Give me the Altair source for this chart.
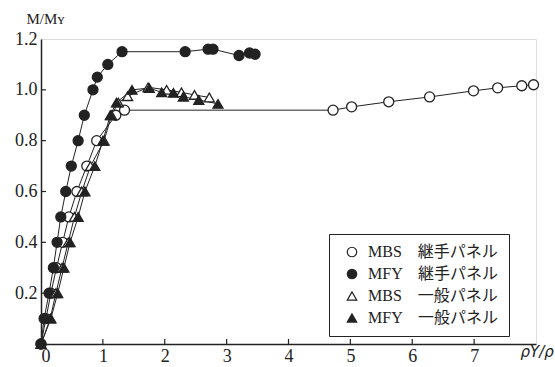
import altair as alt
import pandas as pd

series_names = ["MBS　継手パネル", "MFY　継手パネル", "MBS　一般パネル", "MFY　一般パネル"]

mbs_j_x = [0, 0.08, 0.16, 0.25, 0.35, 0.45, 0.58, 0.74, 0.9, 1.21, 1.35, 4.72, 5.02, 5.62, 6.28, 6.99, 7.38, 7.77, 7.96]
mbs_j_y = [0, 0.1, 0.2, 0.3, 0.4, 0.5, 0.6, 0.7, 0.8, 0.9, 0.92, 0.92, 0.933, 0.953, 0.972, 0.996, 1.008, 1.016, 1.02]

mfy_j_x = [0, 0.05, 0.13, 0.2, 0.26, 0.32, 0.4, 0.49, 0.6, 0.7, 0.84, 0.91, 1.08, 1.31, 2.33, 2.7, 2.78, 3.2, 3.37, 3.46]
mfy_j_y = [0, 0.1, 0.2, 0.3, 0.4, 0.5, 0.6, 0.7, 0.8, 0.9, 1.0, 1.05, 1.1, 1.15, 1.15, 1.16, 1.16, 1.135, 1.145, 1.14]

mbs_g_x = [0, 0.15, 0.24, 0.34, 0.44, 0.54, 0.66, 0.8, 1.02, 1.14, 1.25, 1.4, 1.73, 2.03, 2.27, 2.48, 2.72]
mbs_g_y = [0, 0.1, 0.2, 0.3, 0.4, 0.5, 0.6, 0.7, 0.8, 0.9, 0.95, 0.975, 1.01, 1.0, 0.99, 0.98, 0.97]

mfy_g_x = [0, 0.16, 0.27, 0.37, 0.47, 0.6, 0.71, 0.87, 1.0, 1.12, 1.22, 1.47, 1.75, 1.95, 2.14, 2.3, 2.55, 2.86]
mfy_g_y = [0, 0.1, 0.2, 0.3, 0.4, 0.5, 0.6, 0.7, 0.8, 0.9, 0.95, 1.0, 1.007, 0.99, 0.988, 0.973, 0.96, 0.945]

x_tick_values = [1, 2, 3, 4, 5, 6, 7]
y_tick_values = [0.2, 0.4, 0.6, 0.8, 1.0]

rows = []
for name, xs, ys in zip(series_names,
                        [mbs_j_x, mfy_j_x, mbs_g_x, mfy_g_x],
                        [mbs_j_y, mfy_j_y, mbs_g_y, mfy_g_y]):
    for i, (xv, yv) in enumerate(zip(xs, ys)):
        rows.append({"series": name, "x": xv, "y": yv, "order": i})
df = pd.DataFrame(rows)

xt = pd.DataFrame({"t": x_tick_values})
yt = pd.DataFrame({"t": y_tick_values})

ink = "#222222"
xscale = alt.Scale(domain=[0, 8], nice=False, zero=False)
yscale = alt.Scale(domain=[0, 1.2], nice=False, zero=False)

xaxis = alt.Axis(values=[0, 1, 2, 3, 4, 5, 6, 7], format="d", ticks=False, grid=False,
                 labelFont="Liberation Serif", labelFontSize=18, labelColor=ink,
                 labelPadding=3, domainColor=ink, domainWidth=1.5,
                 title="ρY/ρ", titleFont="DejaVu Sans", titleFontStyle="italic",
                 titleFontWeight="normal", titleFontSize=15, titleColor=ink,
                 titleAlign="left", titleBaseline="middle", titleX=479, titleY=7)
yaxis = alt.Axis(values=[0.2, 0.4, 0.6, 0.8, 1.0, 1.2], format=".1f", ticks=False, grid=False,
                 labelFont="Liberation Serif", labelFontSize=18, labelColor=ink,
                 labelPadding=4, domainColor=ink, domainWidth=1.5,
                 title="M/Mʏ", titleFont="Liberation Serif", titleFontWeight="normal",
                 titleFontSize=15, titleColor=ink, titleAngle=0,
                 titleAlign="center", titleBaseline="middle", titleX=4, titleY=-21)

base = alt.Chart(df)

lines = base.mark_line(color=ink, strokeWidth=1).encode(
    x=alt.X("x:Q", scale=xscale, axis=xaxis),
    y=alt.Y("y:Q", scale=yscale, axis=yaxis),
    detail="series:N",
    order="order:Q",
)

points = base.mark_point(size=100, strokeWidth=1.3, opacity=1, fillOpacity=1).encode(
    x=alt.X("x:Q", scale=xscale),
    y=alt.Y("y:Q", scale=yscale),
    shape=alt.Shape("series:N",
                    scale=alt.Scale(domain=series_names,
                                    range=["circle", "circle", "triangle-up", "triangle-up"]),
                    legend=alt.Legend(title=None, orient="none", legendX=288, legendY=195,
                                      strokeColor=ink, fillColor="white", padding=10,
                                      labelFont="Liberation Serif, Noto Sans CJK JP",
                                      labelFontSize=16, labelColor=ink, rowPadding=6,
                                      symbolSize=90, symbolStrokeWidth=1.2,
                                      symbolStrokeColor=ink, labelOffset=8,
                                      symbolOffset=5)),
    fill=alt.Fill("series:N",
                  scale=alt.Scale(domain=series_names,
                                  range=["white", ink, "white", ink]),
                  legend=alt.Legend(title=None)),
    stroke=alt.Stroke("series:N",
                      scale=alt.Scale(domain=series_names,
                                      range=[ink, ink, ink, ink]),
                      legend=alt.Legend(title=None)),
)

xticks = alt.Chart(xt).mark_rule(color=ink, strokeWidth=1.2).encode(
    x=alt.X("t:Q", scale=xscale),
    y=alt.datum(0),
    y2=alt.datum(0.02),
)
yticks = alt.Chart(yt).mark_rule(color=ink, strokeWidth=1.2).encode(
    y=alt.Y("t:Q", scale=yscale),
    x=alt.datum(0),
    x2=alt.datum(0.08),
)

chart = alt.layer(lines, xticks, yticks, points).properties(
    width=495, height=305,
    autosize=alt.AutoSizeParams(type="none"),
    padding={"left": 41, "top": 39, "right": 19, "bottom": 23},
).configure_view(stroke=ink, strokeWidth=1.4).configure(background="white")

chart.save("out.html", embed_options={"renderer": "svg", "actions": False})
